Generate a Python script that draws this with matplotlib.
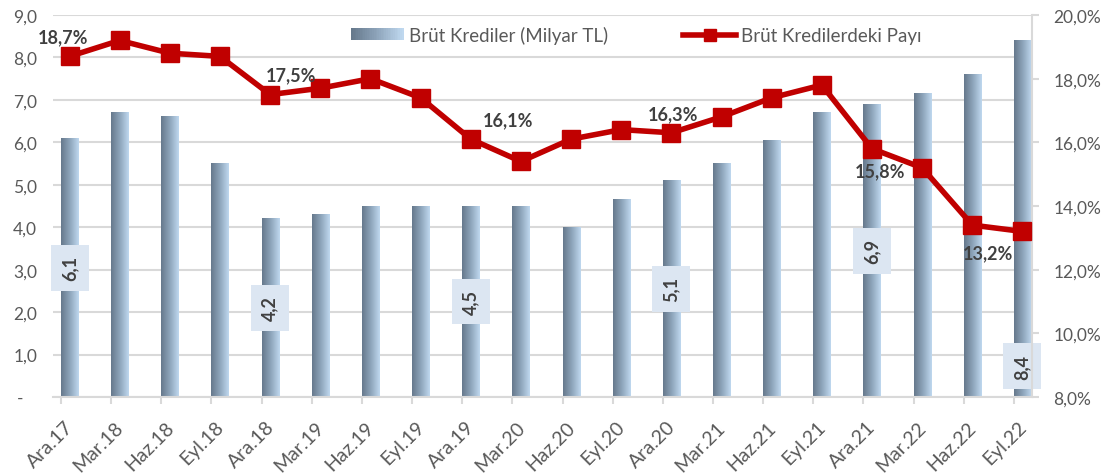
import numpy as np
import matplotlib
matplotlib.use("Agg")
import matplotlib.pyplot as plt
from matplotlib.colors import LinearSegmentedColormap
from matplotlib.legend_handler import HandlerBase
from matplotlib.patches import Rectangle
from matplotlib.lines import Line2D

# ---- data ----
categories = ["Ara.17", "Mar.18", "Haz.18", "Eyl.18", "Ara.18", "Mar.19", "Haz.19", "Eyl.19",
              "Ara.19", "Mar.20", "Haz.20", "Eyl.20", "Ara.20", "Mar.21", "Haz.21", "Eyl.21",
              "Ara.21", "Mar.22", "Haz.22", "Eyl.22"]
brut_krediler = [6.1, 6.7, 6.6, 5.5, 4.2, 4.3, 4.5, 4.5, 4.5, 4.5, 4.0, 4.65, 5.1, 5.5,
                 6.05, 6.7, 6.9, 7.15, 7.6, 8.4]
pay = [18.7, 19.2, 18.8, 18.7, 17.5, 17.7, 18.0, 17.4, 16.1, 15.4, 16.1, 16.4, 16.3, 16.8,
       17.4, 17.8, 15.8, 15.2, 13.4, 13.2]
bar_label_idx = [0, 4, 8, 12, 16, 19]
line_label_idx = [0, 4, 8, 12, 16, 19]
series_names = ["Brüt Krediler (Milyar TL)", "Brüt Kredilerdeki Payı"]

plt.rcParams['font.family'] = ['Lato', 'DejaVu Sans']

TXT = '#595959'
DARK = '#404040'
GRID = '#d9d9d9'
RED = '#c00000'
BOX = '#dce6f2'
grad = LinearSegmentedColormap.from_list('g', ['#66798c', '#8ea5bb', '#bfd8ef'])

W, H = 1110, 477
fig = plt.figure(figsize=(W / 100, H / 100), dpi=100)
L, R, T, B = 53, 1032, 16, 398
ax = fig.add_axes([L / W, 1 - B / H, (R - L) / W, (B - T) / H])
ax2 = ax.twinx()

n = len(categories)
x = np.arange(n)
bw = 0.34

# gradient bars
gimg = np.linspace(0, 1, 64).reshape(1, -1)
for xi, v in zip(x, brut_krediler):
    ax.imshow(gimg, cmap=grad, extent=[xi - bw / 2, xi + bw / 2, 0, v],
              aspect='auto', origin='lower', zorder=2, interpolation='bilinear')

ax.set_xlim(-0.33, 19.19)
ax.set_ylim(0, 9)
ax.set_yticks(np.arange(0, 10, 1))
ax.set_yticklabels(['-   ' if v == 0 else f"{v:.1f}".replace('.', ',') for v in range(10)])
ax.yaxis.grid(True, color=GRID, linewidth=1.5, zorder=0)
ax.set_axisbelow(True)
ax.tick_params(axis='y', length=0, pad=11.5, labelsize=12.5, labelcolor=TXT)
for s in ['left', 'top', 'right']:
    ax.spines[s].set_visible(False)
ax.spines['bottom'].set_color(GRID)
ax.spines['bottom'].set_linewidth(1.5)

# labels near bar centres, tick marks at bar left edges
ax.set_xticks(x - 0.1)
ax.set_xticklabels(categories, rotation=45, ha='right', rotation_mode='anchor')
ax.tick_params(axis='x', which='major', length=0, pad=15, labelsize=14, labelcolor=TXT)
ax.set_xticks(x - 0.17, minor=True)
ax.tick_params(axis='x', which='minor', length=5, width=1.5, color=GRID)

# bar labels
for i in bar_label_idx:
    v = brut_krediler[i]
    yy = v / 2 if i != n - 1 else 0.72
    ax.text(i, yy, f"{v:.1f}".replace('.', ','), rotation=90, ha='center', va='center',
            fontsize=13, fontweight='bold', color=DARK, zorder=5,
            bbox=dict(boxstyle='square,pad=0.58', fc=BOX, ec='none'))

# line
ax2.plot(x, pay, color=RED, linewidth=4, marker='s', markersize=13, zorder=6)
ax2.set_ylim(8, 20)
ax2.set_yticks(np.arange(8, 21, 2))
ax2.set_yticklabels([f"{v:.1f}%".replace('.', ',') for v in np.arange(8, 21, 2)])
ax2.tick_params(axis='y', length=5, width=1.5, color=GRID, pad=10.5, labelsize=12.5, labelcolor=TXT)
for s in ['left', 'top', 'bottom']:
    ax2.spines[s].set_visible(False)
ax2.spines['right'].set_color(GRID)
ax2.spines['right'].set_linewidth(1.5)

offsets = {0: (-5, 14), 4: (15, 14), 8: (27, 14), 12: (1, 14), 16: (6, -16), 19: (-25, -15)}
for i in line_label_idx:
    ax2.annotate(f"{pay[i]:.1f}%".replace('.', ','), (x[i], pay[i]), xytext=offsets[i],
                 textcoords='offset points', ha='center', va='center', fontsize=13,
                 fontweight='bold', color=DARK, zorder=7)


class GradHandler(HandlerBase):
    def create_artists(self, legend, orig_handle, xdescent, ydescent, width, height, fontsize, trans):
        k = 30
        arts = []
        for j in range(k):
            arts.append(Rectangle((-xdescent + width * j / k, -ydescent), width / k * 1.1, height,
                                  facecolor=grad(j / (k - 1)), edgecolor='none', transform=trans))
        return arts


bar_handle = Rectangle((0, 0), 1, 1)
line_handle = Line2D([], [], color=RED, linewidth=4, marker='s', markersize=9)
leg = fig.legend([bar_handle, line_handle], series_names, loc='center',
                 bbox_to_anchor=(636.5 / W, 1 - 36 / H), ncol=2, frameon=False,
                 handler_map={Rectangle: GradHandler()}, fontsize=13.5,
                 handlelength=2.8, handleheight=0.6, handletextpad=0.3, columnspacing=4.0)
for t in leg.get_texts():
    t.set_color(TXT)

fig.savefig('out.png', dpi=100)
